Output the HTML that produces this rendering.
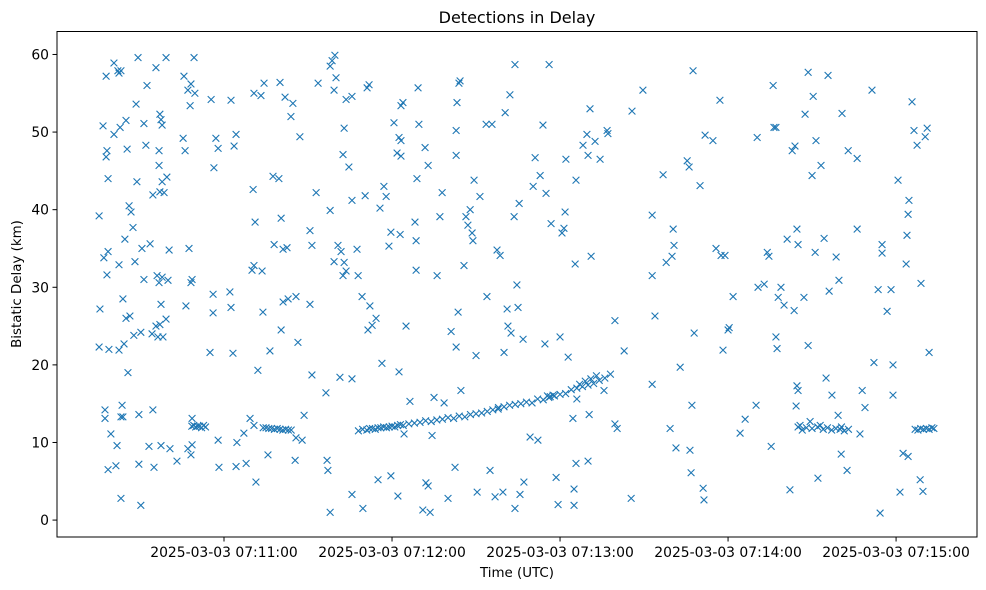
<!DOCTYPE html>
<html><head><meta charset="utf-8">
<style>
html,body{margin:0;padding:0;background:#fff;}
svg{display:block;font-family:"DejaVu Sans","Liberation Sans",sans-serif;}
</style></head>
<body>
<svg id="chart" width="986" height="590" viewBox="0 0 986 590" xmlns="http://www.w3.org/2000/svg">
<rect x="0" y="0" width="986" height="590" fill="#fff"/>
<text x="517" y="23" font-size="16" text-anchor="middle" fill="#000">Detections in Delay</text>
<text x="517" y="577" font-size="13.4" text-anchor="middle" fill="#000">Time (UTC)</text>
<text x="21" y="284" font-size="13.4" text-anchor="middle" fill="#000" transform="rotate(-90 21 284)">Bistatic Delay (km)</text>
<g id="marks"></g>
<g id="axes"></g>
<rect x="57" y="31.5" width="920" height="505.5" fill="none" stroke="#000" stroke-width="1"/>
</svg>
<script>
const xTickSeconds = [60, 120, 180, 240, 300];
const xTickLabels = ["2025-03-03 07:11:00","2025-03-03 07:12:00","2025-03-03 07:13:00","2025-03-03 07:14:00","2025-03-03 07:15:00"];
const yTicks = [0, 10, 20, 30, 40, 50, 60];
// [seconds after 07:10:00, bistatic delay km]
const detections = [
[15.4,39.2],[15.7,27.2],[15.4,22.3],[16.8,50.8],[17.9,57.2],[18.2,47.6],[17.9,46.8],[18.6,44],[18.6,34.6],[17.1,33.8],[18.2,31.6],[18.9,22],[17.5,14.2],[17.5,13.1],[18.6,6.5],[19.6,11.1],[20.7,58.9],[20.7,49.7],[21.4,7],[21.8,9.6],[22.1,57.9],[22.5,57.6],[23.2,57.9],[22.9,50.6],[22.5,32.9],[22.5,21.9],[23.2,13.3],[23.6,14.8],[23.9,13.3],[23.2,2.8],[23.9,28.5],[24.3,22.7],[24.6,36.2],[25,26],[25.4,47.8],[25,51.5],[25.7,19],[26.1,40.5],[26.8,39.7],[26.4,26.3],[27.5,37.7],[27.8,23.8],[28.2,33.3],[28.6,53.6],[28.9,43.6],[29.3,59.6],[29.6,7.2],[29.6,13.6],[30.3,24.2],[30.3,1.9],[30.7,35],[31.4,51.1],[31.4,31],[32.1,48.3],[32.5,56],[33.2,9.5],[33.6,35.6],[34.3,24],[34.6,41.9],[34.6,14.2],[35,6.8],[35.7,58.3],[35.7,25],[36.1,31.5],[36.4,23.6],[36.8,30.6],[37.1,25.2],[36.8,45.7],[36.8,47.6],[37.1,42.3],[37.1,52.3],[37.5,51.6],[37.9,50.9],[37.9,43.6],[37.5,27.8],[37.9,31.3],[38.2,23.6],[37.5,9.6],[38.6,42.2],[39.3,59.6],[39.6,44.2],[39.3,25.9],[40,30.9],[40.4,34.8],[40.7,9.2],[43.2,7.6],
[48.5,12.1],[49.2,12.2],[49.9,12],[50.6,12.1],[51.3,12.1],[52,11.9],[52.7,12.2],[53.4,12],
[45.4,49.2],[45.7,57.2],[46.1,47.6],[46.4,27.6],[47.1,9.2],[47.1,55.4],[47.5,35],[47.9,53.4],[48.2,56.2],[48.2,30.6],[48.6,31],[48.2,8.4],[48.6,13.1],[49.3,59.6],[49.6,55],[48.6,9.7],
[55,21.6],[56.1,29.1],[56.1,26.7],[57.9,10.3],[56.4,45.4],[58.2,6.8],[55.4,54.2],[57.1,49.2],[57.9,47.9],
[62.5,54.1],[64.3,49.7],[63.6,48.2],[62.1,29.4],[62.5,27.4],[63.2,21.5],[64.6,10],[64.3,6.9],[67.1,11.2],[67.9,7.3],[69.3,13.1],[70.7,55],[70.4,42.6],[71.1,38.4],[70.7,32.8],[70,32.2],[71.4,4.9],[70.7,12.2],[72.1,19.3],[73.2,54.7],[74.3,56.3],[76.4,21.8],[77.5,44.3],[77.9,35.5],[79.6,44],[80,56.4],[80.4,38.9],[81.1,34.9],[80.4,24.5],[81.1,28.1],[81.8,54.5],[82.5,35.1],[82.9,28.5],[83.9,52],[84.6,53.7],[85.7,28.8],[85.7,10.6],[86.4,22.9],[87.1,49.4],[85.4,7.7],[88.6,13.5],[87.9,10.3],[90.7,37.3],[90.7,27.8],[91.4,35.4],[91.4,18.7],[92.9,42.2],[93.6,56.3],[75.7,8.4],[73.9,26.8],[73.6,32.1],
[74,11.9],[75,11.9],[76,11.8],[77,11.8],[78,11.7],[79,11.8],[80,11.7],[81,11.6],[82,11.7],[83,11.6],[84,11.6],
[96.4,16.4],[96.8,7.7],[97.1,6.4],[97.9,1],[97.9,58.5],[98.6,59.2],[99.6,59.9],[100,57],[99.3,55.4],[97.9,39.9],[99.3,33.3],[100.7,35.4],[101.8,34.6],[102.5,31.5],[103.6,32.1],[102.9,33.2],[101.4,18.4],[102.5,47.1],[103.6,54.2],[102.9,50.5],[105.7,54.6],[104.6,45.5],[105.7,41.2],[105.7,18.2],[105.7,3.3],[107.5,34.9],[107.9,31.5],[109.3,28.8],[109.6,1.5],[110.4,41.8],[111.1,55.7],[111.4,24.5],[111.8,56.1],[112.1,27.6],[112.9,25.1],[114.3,26],[115,5.2],[115.7,40.2],[117.1,43],[116.4,20.2],[117.9,41.7],[118.9,35.3],[119.6,5.7],[119.6,37.1],[120.7,51.2],[121.8,47.3],[122.1,3.1],[122.5,19.1],[122.9,36.8],[123.2,53.4],[122.5,49.3],[123.2,46.9],[123.9,53.8],[123.2,48.9],
[108,11.5],[109.5,11.7],[111,11.6],[112,11.8],[113,11.8],[114,11.7],[115,11.9],[116,11.9],[117,12],[118,11.9],[119,12],[120,12.1],[121,12],[122,12.2],[123,12.3],[124,12.2],[126,12.4],[128,12.5],[130,12.6],[132,12.8],[134,12.7],[136,12.9],[138,13],[140,13.2],[142,13.1],[144,13.4],[146,13.3],[148,13.6],[150,13.7],[152,13.8],[154,14],[156,14.2],[158,14.5],[160,14.6],[162,14.8],[164,14.9],[166,15],[168,15.2],[170,15.1],[172,15.6],[174,15.5],[176,15.8],[178,16],[180,16.2],[182,16.3],[184,16.8],[186,17],[188,17.2],[190,17.4],[192,17.6],[194,18],[196,18.3],[198,18.8],[175.5,16],[176.5,15.9],[177.5,16.1],[187,17.5],[189,17.9],[191,18.2],[193,18.6],
[124.3,11.1],[125,25],[126.4,15.3],[128.2,38.4],[128.6,36],[128.6,32.2],[128.9,44],[129.3,55.7],[129.6,51],[131,1.3],[131.8,48],[132.1,4.8],[132.9,45.7],[132.9,4.4],[133.6,1],[134.3,10.9],[135,15.8],[136.1,31.5],[137.1,39.1],[137.9,42.2],[138.6,15.1],[140,2.8],[141.1,24.3],[142.5,6.8],[142.9,50.2],[142.9,47],[143.2,53.8],[143.9,56.3],[144.3,56.6],[142.9,22.3],[143.6,26.8],[144.6,16.7],[145.7,32.8],[146.4,39.1],[147.1,38],[147.9,40],[148.6,37],[148.9,36],[149.3,43.8],[150,21.2],[150.4,3.6],[151.4,41.7],[153.6,51],[153.9,28.8],[155,6.4],[155.7,51],[156.8,3],[157.5,34.8],[157.9,14.3],[158.6,34.1],[159.6,3.6],[160,21.6],[160.4,52.5],[161.1,27.2],[161.4,25],[162.1,54.8],[162.5,24.1],[163.6,39.1],[163.9,1.5],[163.9,58.7],[164.6,30.3],[165,27.4],[165.4,40.8],[165.7,3.3],[166.8,23.3],[167.1,4.9],[169.3,10.7],[170.4,43],[171.1,46.7],[172.1,10.3],[172.9,44.4],[173.9,50.9],[174.6,22.7],[175,42.1],[176.1,58.7],[176.8,38.2],[178.6,5.5],[179.3,2],[180,23.6],[180.7,37],[181.4,37.6],[181.8,39.7],[182.1,46.5],[182.9,21],[184.6,13.1],[185,4],[185,1.9],[185.4,33],[185.7,7.3],[185.7,43.8],[186,15.6],[188.2,48.3],[189.6,49.7],[190,7.6],[190.4,13.6],[190,47],[190.7,53],[191.1,34],[192.5,48.8],[194.3,46.5],[195.7,16.7],[196.8,50.2],[197.1,49.8],[199.6,12.4],[199.6,25.7],[200.4,11.8],[202.9,21.8],[205.4,2.8],[205.7,52.7],[209.6,55.4],[212.9,39.3],[212.9,31.5],[213.9,26.3],[212.9,17.5],[216.8,44.5],[217.9,33.2],[220,34],[220.4,37.5],[220.7,35.4],[219.3,11.8],[221.4,9.3],[222.9,19.7],[225.4,46.3],[226.1,45.5],[226.4,9],[226.8,6.1],[227.1,14.8],[227.5,57.9],[227.9,24.1],[230,43.1],[231.1,4.1],[231.4,2.6],[231.8,49.6],[234.6,48.9],[235.7,35],[237.1,54.1],[237.5,34.1],[238.2,21.9],[238.9,34.1],[240,24.5],[240.4,24.8],[241.8,28.8],[244.3,11.2],[246.1,13],
[250.4,49.3],[250,14.8],[250.7,30],[252.9,30.4],[254,34.5],[254.6,34],[255.4,9.5],[256.1,56],[256.4,50.6],[257.1,50.6],[257.1,23.6],[257.5,22.1],[257.9,28.7],[258.9,30],[260,27.7],[261.1,36.2],[262.1,3.9],[262.9,47.6],[263.6,27],[263.9,48.2],[264.3,14.7],[264.6,17.3],[264.6,37.5],[265,35.5],[265,16.7],[265.7,12.2],[267.1,28.7],[267.5,52.3],[268.6,57.7],[268.6,22.5],[269.3,12.7],[270,44.4],[270.4,54.6],[271.1,34.5],[271.4,48.9],[272.1,5.4],[272.9,12.2],[273.2,45.7],[274.3,36.3],[275,18.3],[275.7,57.3],[276.1,29.5],[277.1,16.1],[278.6,33.9],[279.6,30.9],[279.3,13.5],[280,11.7],[280.4,8.5],[280.7,52.4],[282.5,6.4],[282.9,47.6],[286.1,46.6],[286.1,37.5],[287.1,11.1],[287.9,16.7],[288.9,14.5],[291.4,55.4],[292.1,20.3],[293.6,29.7],[294.3,0.9],[295,35.5],[295,34.4],[296.8,26.9],[298.2,29.7],[298.9,20],[298.9,16.1],[300.7,43.8],[301.4,3.6],[302.5,8.6],[303.6,33],[303.9,36.7],[304.3,8.2],[304.3,39.4],[304.6,41.2],[305.7,53.9],[306.4,50.2],[307.5,48.3],[308.9,30.5],[308.6,5.2],[309.6,3.7],[310.4,49.4],[311.1,50.5],[311.8,21.6],
[265,12],[266.5,11.6],[268,11.9],[270,11.8],[272,12],[274,11.7],[275.5,11.9],[277,11.6],[278.5,11.8],[280.5,12],[281.5,11.5],[283,11.7],
[306.8,11.7],[307.8,11.6],[308.8,11.8],[309.8,11.7],[310.8,11.8],[311.8,11.7],[312.8,11.9],[313.5,11.8]
];

const plot = {left:57, right:977, top:31.5, bottom:537};
const xDom = [0.36, 328.9];
const yDom = [-2.18, 62.96];
function xScale(t){return plot.left + (t - xDom[0])/(xDom[1]-xDom[0])*(plot.right-plot.left);}
function yScale(v){return plot.bottom - (v - yDom[0])/(yDom[1]-yDom[0])*(plot.bottom-plot.top);}

const NS = "http://www.w3.org/2000/svg";
const marks = document.getElementById('marks');
const axes = document.getElementById('axes');
detections.forEach(function(d){
  const cx = xScale(d[0]), cy = yScale(d[1]), r = 3.4;
  const p = document.createElementNS(NS,'path');
  p.setAttribute('d','M'+(cx-r)+','+(cy-r)+'L'+(cx+r)+','+(cy+r)+'M'+(cx-r)+','+(cy+r)+'L'+(cx+r)+','+(cy-r));
  p.setAttribute('stroke','#1f77b4');
  p.setAttribute('stroke-width','1.1');
  p.setAttribute('fill','none');
  
  
  marks.appendChild(p);
});
xTickSeconds.forEach(function(t,i){
  const x = xScale(t);
  const l = document.createElementNS(NS,'line');
  l.setAttribute('x1',x);l.setAttribute('x2',x);l.setAttribute('y1',plot.bottom);l.setAttribute('y2',plot.bottom+4.5);
  l.setAttribute('stroke','#000');
  
  
  axes.appendChild(l);
  const tx = document.createElementNS(NS,'text');
  tx.setAttribute('x',x);tx.setAttribute('y',plot.bottom+20);
  tx.setAttribute('font-size','13.9');tx.setAttribute('text-anchor','middle');
  tx.textContent = xTickLabels[i];
  
  
  axes.appendChild(tx);
});
yTicks.forEach(function(v){
  const y = yScale(v);
  const l = document.createElementNS(NS,'line');
  l.setAttribute('x1',plot.left-4.5);l.setAttribute('x2',plot.left);l.setAttribute('y1',y);l.setAttribute('y2',y);
  l.setAttribute('stroke','#000');
  
  
  axes.appendChild(l);
  const tx = document.createElementNS(NS,'text');
  tx.setAttribute('x',plot.left-8);tx.setAttribute('y',y+5);
  tx.setAttribute('font-size','13.9');tx.setAttribute('text-anchor','end');
  tx.textContent = String(v);
  
  
  axes.appendChild(tx);
});
</script>
</body></html>
